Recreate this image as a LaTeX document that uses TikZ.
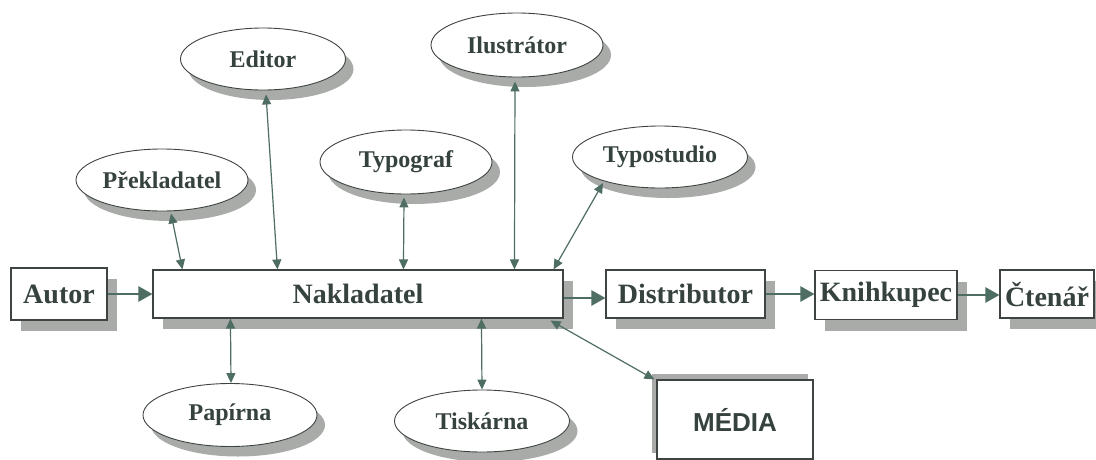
\documentclass[tikz,border=0pt]{standalone}
\usepackage{fontspec}
\setmainfont{Liberation Serif}
\newfontfamily\arialfont{Liberation Sans}
\usetikzlibrary{shapes.geometric,shadows,arrows.meta,calc}
\definecolor{txt}{HTML}{35423D}
\definecolor{arr}{HTML}{4E6D63}
\definecolor{shd}{HTML}{A8ABA8}
\definecolor{brd}{HTML}{3E4442}
\begin{document}
\begin{tikzpicture}[x=1pt,y=-1pt,
  oval/.style={ellipse, draw=brd, line width=0.9pt, fill=white, inner sep=0pt, text=txt,
    font=\bfseries\fontsize{24}{24}\selectfont,
    general shadow={fill=shd, shadow xshift=8pt, shadow yshift=-10pt}},
  rbox/.style={rectangle, draw=brd, line width=1.1pt, fill=white, inner sep=0pt, text=txt,
    font=\bfseries\fontsize{28}{28}\selectfont,
    general shadow={fill=shd, shadow xshift=10pt, shadow yshift=-11pt}},
  mbox/.style={rectangle, draw=brd, line width=1.1pt, fill=white, inner sep=0pt, text=txt,
    font=\arialfont\bfseries\fontsize{26}{26}\selectfont,
    general shadow={fill=shd, shadow xshift=-5pt, shadow yshift=6pt}},
  link/.style={draw=arr, line width=1.2pt, {Triangle[length=10pt,width=9pt]}-{Triangle[length=10pt,width=9pt]}},
  flow/.style={draw=arr, line width=2.4pt, -{Triangle[length=14pt,width=15pt]}},
]
\useasboundingbox (0,0) rectangle (1096,459);
\fill[white] (0,0) rectangle (1096,459);

% ovals
\node[oval, minimum width=165pt, minimum height=62pt] (ed) at (263,59) {Editor};
\node[oval, minimum width=172pt, minimum height=64pt] (il) at (517,45) {Ilustrátor};
\node[oval, minimum width=172pt, minimum height=62pt] (pr) at (162,180) {Překladatel};
\node[oval, minimum width=172pt, minimum height=64pt] (ty) at (406,162) {Typograf};
\node[oval, minimum width=175pt, minimum height=62pt] (ts) at (660,157) {Typostudio};
\node[oval, minimum width=174pt, minimum height=63pt] (pa) at (230,415) {Papírna};
\node[oval, minimum width=175pt, minimum height=62pt] (tk) at (482,421) {Tiskárna};

% boxes
\node[rbox, minimum width=96pt, minimum height=52pt] (au) at (59,294) {Autor};
\node[rbox, minimum width=410pt, minimum height=48pt] (nak) at (358,294) {Nakladatel};
\node[rbox, minimum width=159pt, minimum height=48pt] (di) at (685.5,294) {Distributor};
\node[rbox, minimum width=142pt, minimum height=49pt] (kn) at (886,295) {Knihkupec};
\node[rbox, minimum width=94pt, minimum height=48pt] (ct) at (1047,294) {Čtenář};
\node[mbox, minimum width=156pt, minimum height=79pt] (me) at (735,419.5) {MÉDIA};

% two-way links
\draw[link] ($(pr.south)+(9,2)$) -- ($(nak.north west)+(30,0)$);
\draw[link] ($(ed.south)+(3,4)$) -- ($(nak.north west)+(125,0)$);
\draw[link] ($(ty.south)+(-2,3)$) -- ($(nak.north west)+(251,0)$);
\draw[link] ($(il.south)+(-2,4)$) -- ($(nak.north west)+(362,0)$);
\draw[link] ($(ts.center)+(-57,26)$) -- ($(nak.north east)+(-10,0)$);
\draw[link] ($(pa.north)+(1,0)$) -- ($(nak.south west)+(78,0)$);
\draw[link] (tk.north) -- ($(nak.south west)+(329,0)$);
\draw[link] ($(me.north west)+(-2,0)$) -- ($(nak.south east)+(-13,2)$);

% flow
\draw[flow] (au.east) -- (nak.west);
\draw[flow] ($(nak.east)+(0,4)$) -- ($(di.west)+(0,4)$);
\draw[flow] (di.east) -- (kn.west |- di.east);
\draw[flow] (kn.east) -- (ct.west |- kn.east);
\end{tikzpicture}
\end{document}
